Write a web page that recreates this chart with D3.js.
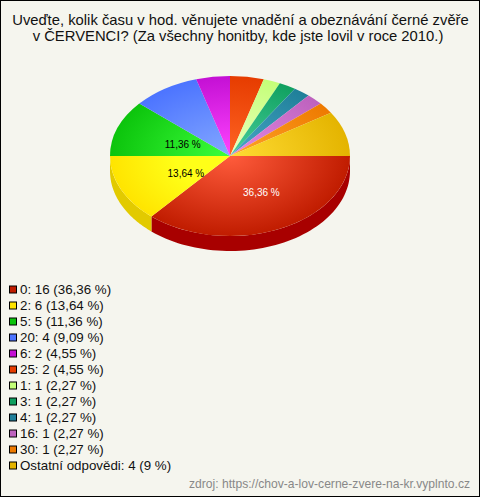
<!DOCTYPE html>
<html><head><meta charset="utf-8">
<script src="https://cdnjs.cloudflare.com/ajax/libs/d3/7.8.5/d3.min.js"></script>
<style>html,body{margin:0;padding:0;background:#fff}svg{display:block}text{font-family:"Liberation Sans",Arial,sans-serif}</style>
</head><body><svg id="c" width="480" height="497"></svg>
<script>
const titleLines = ["Uveďte, kolik času v hod. věnujete vnadění a obeznávání černé zvěře","v ČERVENCI? (Za všechny honitby, kde jste lovil v roce 2010.)"];
const categories = ["0","2","5","20","6","25","1","3","4","16","30","Ostatní odpovědi"];
const values = [16,6,5,4,2,2,1,1,1,1,1,4];
const percents = ["36,36","13,64","11,36","9,09","4,55","4,55","2,27","2,27","2,27","2,27","2,27","9"];
const edgeColors = ["#c01c00","#ffe400","#0cc40c","#4c74ff","#c410d4","#e63c00","#c4ff78","#10a060","#1f7f99","#bd62bd","#ee7a00","#e4b400"];
const coreColors = ["#ff5c3c","#ffff18","#3cff3c","#84a8ff","#ff44ff","#ff6424","#ecffc0","#48d09c","#48a8c8","#e488e4","#ffa428","#ffdc34"];
const sideColors = ["#a80000","#e2ca00"];
const source = "zdroj: https://chov-a-lov-cerne-zvere-na-kr.vyplnto.cz";

const W=480,H=497,cx=230,cy=156,rx=120,ry=80,depth=15;
const svg=d3.select("#c");
svg.append("rect").attr("x",.5).attr("y",.5).attr("width",W-1).attr("height",H-1).attr("fill","#f5f5ee").attr("stroke","#000");

const title=svg.append("g").attr("text-anchor","middle").attr("fill","#111").attr("font-size",14.8);
title.selectAll("text").data(titleLines).join("text").attr("x",(d,i)=>i?238:240.5).attr("y",(d,i)=>25+i*16).text(d=>d);

const pie=d3.pie().sort(null).startAngle(Math.PI/2).endAngle(Math.PI/2+2*Math.PI).value(d=>d);
const arcs=pie(values);
const defs=svg.append("defs");
arcs.forEach((a,i)=>{
  const g=defs.append("radialGradient").attr("id","g"+i).attr("gradientUnits","userSpaceOnUse").attr("cx",0).attr("cy",0).attr("r",rx);
  g.append("stop").attr("offset",0).attr("stop-color",coreColors[i]);
  if(i===1) g.append("stop").attr("offset",.45).attr("stop-color",coreColors[i]);
  g.append("stop").attr("offset",1).attr("stop-color",edgeColors[i]);
});
const px=t=>cx+rx*Math.sin(t), py=t=>cy-ry*Math.cos(t);
// extruded side wall: only the part of each slice facing the viewer
const lo=Math.PI/2, hi=3*Math.PI/2;
const wall=svg.append("g");
arcs.forEach((a,i)=>{
  const s=Math.max(a.startAngle,lo), e=Math.min(a.endAngle,hi);
  if(e<=s) return;
  const ts=d3.range(0,61).map(k=>s+(e-s)*k/60);
  const pts=ts.map(t=>[px(t),py(t)]).concat(ts.slice().reverse().map(t=>[px(t),py(t)+depth]));
  wall.append("path").attr("d",d3.line()(pts)+"Z").attr("fill",sideColors[i%sideColors.length]);
});
const face=svg.append("g").attr("transform",`translate(${cx},${cy}) scale(1,${ry/rx})`);
const arcGen=d3.arc().innerRadius(0).outerRadius(rx);
face.selectAll("path").data(arcs).join("path").attr("d",arcGen).attr("fill",(d,i)=>`url(#g${i})`);

const nudgeX=[6.5,10.5,9], nudgeY=[0,1,2];
const total=d3.sum(values);
arcs.forEach((a,i)=>{
  if(a.value/total<0.1) return;
  const m=(a.startAngle+a.endAngle)/2;
  svg.append("text").attr("x",cx+.5*rx*Math.sin(m)+nudgeX[i]).attr("y",cy-.5*ry*Math.cos(m)+3.5+nudgeY[i])
    .attr("text-anchor","middle").attr("font-size",10).attr("fill",i===0?"#fff":"#000").text(percents[i]+" %");
});

const legend=svg.append("g");
categories.forEach((c,i)=>{
  const y=289+i*16;
  legend.append("rect").attr("x",9.5).attr("y",y-3).attr("width",7).attr("height",7).attr("fill",edgeColors[i]).attr("stroke","#000");
  legend.append("text").attr("x",20).attr("y",y+5).attr("font-size",13.33).attr("fill","#111").text(`${c}: ${values[i]} (${percents[i]} %)`);
});
svg.append("text").attr("x",470).attr("y",488).attr("text-anchor","end").attr("font-size",12.1).attr("fill","#888").text(source);
</script></body></html>
